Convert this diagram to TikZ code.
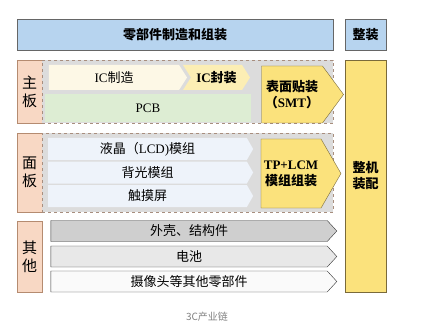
\documentclass[tikz,border=0pt]{standalone}
\usepackage{fontspec}
\setmainfont{Noto Sans CJK SC}
\newfontfamily\lat{Liberation Serif}
\usepackage{xcolor}
\usetikzlibrary{positioning,shapes.symbols}
\definecolor{headblue}{HTML}{B7D4EF}
\definecolor{sidepink}{HTML}{F8D8C4}
\definecolor{sidebrown}{HTML}{B58B70}
\definecolor{grpgray}{HTML}{DCDCDC}
\definecolor{dashbrown}{HTML}{A88E7E}
\definecolor{icmake}{HTML}{FDF8E6}
\definecolor{icpack}{HTML}{FCEEB4}
\definecolor{pcbgreen}{HTML}{DDEDD3}
\definecolor{asmyellow}{HTML}{FBE27C}
\definecolor{asmborder}{HTML}{7A6A3A}
\definecolor{panelblue}{HTML}{EEF3FA}
\definecolor{capgray}{HTML}{808080}
\begin{document}
\begin{tikzpicture}[x=1pt, y=-1pt, every node/.style={inner sep=0pt, font=\fontsize{13}{15}\selectfont},
  head/.style={draw=gray!80!black, fill=headblue, font=\bfseries\fontsize{13}{15}\selectfont, minimum height=31pt},
  side/.style={draw=sidebrown, fill=sidepink, align=center, font=\fontsize{15}{18}\selectfont, minimum width=25pt},
  grp/.style={draw=dashbrown, dashed, thick, fill=grpgray, minimum width=291pt},
  bar/.style={signal, signal to=east, align=center},
  asm/.style={bar, draw=asmborder, fill=asmyellow, font=\bfseries\fontsize{13}{16}\selectfont},
  part/.style={bar, draw=black!80, minimum width=286pt, minimum height=21pt, signal pointer angle=95}]
\useasboundingbox (0,0) rectangle (422,331);
% top row
\node[head, minimum width=316pt] (parts) at (175,34.5) {零部件制造和组装};
\node[head, minimum width=41pt] (final) at (365.5,34.5) {整装};
\node[draw=asmborder, fill=asmyellow, minimum width=41pt, minimum height=232pt, align=center,
  font=\bfseries\fontsize{13}{16}\selectfont] (whole) at (365.5,176) {整机\\装配};
% 主板
\node[side, minimum height=63pt] (mainb) at (29.5,91.5) {主\\板};
\node[grp, minimum height=63pt] (maingrp) at (187.5,91.5) {};
\node[bar, fill=icmake, minimum width=138pt, minimum height=25pt, signal pointer angle=115] (icmk) at (114,77.5) {{\lat IC}制造};
\node[bar, signal from=west, fill=icpack, minimum width=67pt, minimum height=25pt, signal pointer angle=115,
  font=\bfseries\fontsize{13}{15}\selectfont] (icpk) at (216.5,77.5) {{\lat IC}封装};
\node[fill=pcbgreen, minimum width=206pt, minimum height=28pt] (pcb) at (148,108) {\lat PCB};
\node[asm, minimum width=82pt, minimum height=57pt, signal pointer angle=107] (smt) at (292,94.5) {表面贴装\\（{\lat SMT}）};
% 面板
\node[side, minimum height=79pt] (panelb) at (29.5,172.5) {面\\板};
\node[grp, minimum height=79pt] (panelgrp) at (187.5,172.5) {};
\node[bar, fill=panelblue, minimum width=205pt, minimum height=22pt, signal pointer angle=120] (lcd) at (147.5,149) {液晶（{\lat LCD)}模组};
\node[bar, fill=panelblue, minimum width=205pt, minimum height=22pt, signal pointer angle=120] (blu) at (147.5,172.5) {背光模组};
\node[bar, fill=panelblue, minimum width=205pt, minimum height=22pt, signal pointer angle=120] (touch) at (147.5,196) {触摸屏};
\node[asm, minimum width=80pt, minimum height=69pt, signal pointer angle=120] (tplcm) at (291,173.5) {{\lat TP+LCM}\\模组组装};
% 其他
\node[side, minimum height=71pt] (otherb) at (29.5,256.5) {其\\他};
\node[part, fill=black!19] (shell) at (189,231) {外壳、结构件};
\node[part, fill=black!9] (battery) at (189,256.5) {电池};
\node[part, fill=black!2] (camera) at (189,281.5) {摄像头等其他零部件};
\node[text=capgray, font=\fontsize{10}{12}\selectfont] (caption) at (207,317) {3C产业链};
\end{tikzpicture}
\end{document}
